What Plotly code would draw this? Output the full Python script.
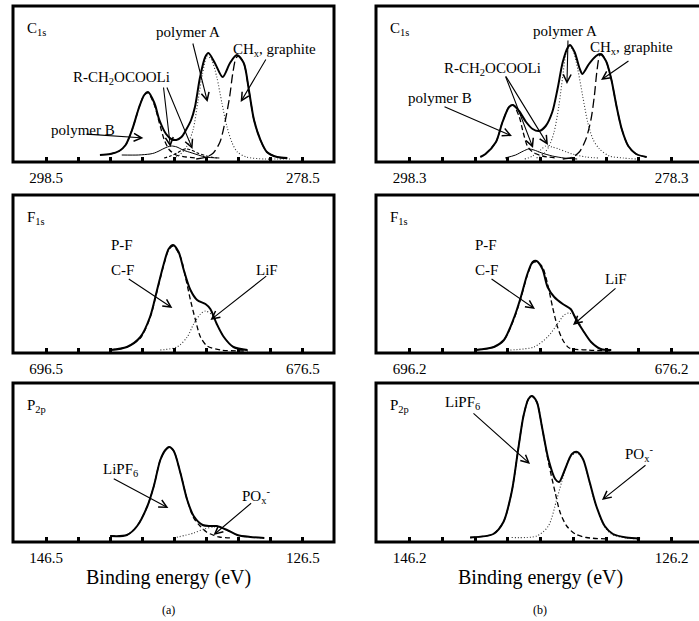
import plotly.graph_objects as go

# ---------------- data (binding energy eV, intensity a.u.) ----------------
# C1s  (a)
C1S_A_ENV_E = [294.3, 293.5, 292.8, 292.3, 291.8, 291.24, 290.85, 290.55, 290.06, 289.67, 289.15, 288.75, 288.35, 287.95,
               287.6, 287.2, 286.9, 286.5, 286.1, 285.85, 285.35, 284.74, 284.17, 283.64, 283.1, 282.7, 282.3, 281.8,
               281.3, 280.5, 279.7]
C1S_A_ENV_I = [7, 8, 11, 17, 32, 55, 67, 70, 59, 42, 28, 23, 22, 25, 32, 42, 55, 85, 105, 109, 99, 85, 99, 107, 99, 72,
               42, 22, 10, 5, 4]
C1S_A_POLYB_E = [293.5, 292.8, 292.3, 291.8, 291.24, 290.85, 290.55, 290.06, 289.67, 289.28, 288.88, 288.36, 287.57, 286.8]
C1S_A_POLYB_I = [8, 11, 17, 32, 55, 67, 69, 57, 39, 22, 12, 7, 5, 4]
C1S_A_R1_E = [292.6, 291.3, 290.4, 290.06, 289.7, 289.4, 289.05, 288.75, 288.3, 287.84, 287.12, 286.08, 285.0]
C1S_A_R1_I = [7, 7, 8, 9, 11, 13, 15, 16, 15, 12, 9, 5, 4]
C1S_A_R2_E = [289.3, 288.8, 288.3, 287.9, 287.6, 287.2, 286.7, 286.0, 285.2]
C1S_A_R2_I = [4, 6, 9, 12, 13, 12, 9, 6, 4]
C1S_A_POLYA_E = [288.6, 288.1, 287.57, 287.05, 286.65, 286.3, 285.95, 285.6, 285.2, 284.8, 284.4, 284.0, 283.6, 282.9,
                 281.5, 280.5, 279.5]
C1S_A_POLYA_I = [4, 7, 15, 32, 62, 89, 106, 102, 85, 59, 35, 19, 10, 5, 3, 3, 3]
C1S_A_CHX_E = [286.8, 286.0, 285.47, 284.95, 284.56, 284.2, 283.95, 283.7, 283.5, 283.1, 282.7, 282.3, 281.8, 281.3,
               280.5, 279.7]
C1S_A_CHX_I = [3, 5, 9, 20, 40, 65, 89, 104, 106, 99, 72, 42, 22, 10, 5, 4]

# C1s  (b)
C1S_B_ENV_E = [292.9, 292.5, 291.7, 291.2, 290.7, 290.4, 289.94, 289.4, 288.9, 288.4, 287.9, 287.4, 287.0, 286.6, 286.2,
               286.05, 285.7, 285.3, 285.1, 284.6, 284.06, 283.75, 283.3, 282.9, 282.5, 282.1, 281.6, 281.0, 280.2]
C1S_B_ENV_I = [5, 8, 20, 40, 55, 57, 51, 40, 33, 31, 36, 50, 73, 100, 115, 117, 110, 93, 88, 98, 106, 108, 101, 83, 56,
               33, 16, 8, 5]
C1S_B_POLYB_E = [292.5, 291.7, 291.2, 290.7, 290.4, 289.94, 289.63, 289.3, 288.9, 288.15, 287.1]
C1S_B_POLYB_I = [8, 20, 40, 55, 57, 46, 30, 16, 10, 6, 4]
C1S_B_R1_E = [291.0, 290.2, 289.6, 289.2, 288.8, 288.2, 287.4, 286.5, 285.5]
C1S_B_R1_I = [4, 7, 11, 13, 12, 9, 6, 4, 3]
C1S_B_R2_E = [289.5, 288.9, 288.3, 287.9, 287.4, 286.9, 286.3, 285.86, 284.84, 283.8]
C1S_B_R2_I = [3, 6, 12, 16, 15, 13, 10, 8, 5, 4]
C1S_B_POLYA_E = [288.6, 288.0, 287.64, 287.26, 286.9, 286.6, 286.36, 286.1, 285.8, 285.46, 285.08, 284.7, 284.3, 283.8,
                 283.04, 282.0, 281.0]
C1S_B_POLYA_I = [4, 9, 16, 30, 56, 86, 108, 116, 111, 93, 66, 40, 23, 13, 6, 4, 3]
C1S_B_CHX_E = [286.6, 285.85, 285.34, 284.83, 284.44, 284.19, 284.0, 283.8, 283.65, 283.3, 282.9, 282.5, 282.1, 281.6,
               281.0, 280.2]
C1S_B_CHX_I = [3, 5, 10, 23, 43, 66, 90, 106, 108, 101, 83, 56, 33, 16, 8, 5]

# F1s  (a)
F1S_A_ENV_E = [691.5, 690.2, 689.15, 688.4, 687.85, 687.33, 686.95, 686.6, 686.17, 685.77, 685.25, 684.73, 684.08,
               683.7, 683.2, 682.65, 681.9, 680.8]
F1S_A_ENV_I = [3, 6, 16, 36, 63, 89, 104, 108, 101, 83, 63, 53, 49, 44, 29, 16, 6, 3]
F1S_A_CF_E = [691.5, 690.2, 689.15, 688.4, 687.85, 687.33, 686.95, 686.6, 686.03, 685.64, 685.25, 684.86, 684.47,
              683.95, 682.9, 680.8]
F1S_A_CF_I = [3, 6, 15, 35, 62, 88, 103, 107, 96, 76, 53, 33, 16, 7, 3, 2]
F1S_A_LIF_E = [687.6, 686.3, 685.5, 685.0, 684.47, 684.08, 683.56, 683.2, 682.65, 681.9, 680.8]
F1S_A_LIF_I = [3, 6, 16, 29, 39, 42, 38, 29, 16, 6, 3]

# F1s  (b)
F1S_B_ENV_E = [691.16, 689.76, 688.99, 688.2, 687.7, 687.2, 686.8, 686.5, 686.05, 685.66, 685.15, 684.5, 683.9, 683.5,
               682.98, 682.34, 681.6, 680.8]
F1S_B_ENV_I = [3, 6, 13, 36, 56, 79, 91, 92, 84, 66, 56, 49, 44, 34, 23, 11, 4, 3]
F1S_B_CF_E = [691.16, 689.76, 688.99, 688.2, 687.7, 687.2, 686.8, 686.5, 686.05, 685.66, 685.28, 684.9, 684.5, 684.0,
              682.6, 680.8]
F1S_B_CF_I = [3, 6, 13, 35, 55, 78, 90, 91, 86, 69, 46, 26, 13, 5, 3, 2]
F1S_B_LIF_E = [688.5, 686.7, 685.66, 684.9, 684.4, 684.0, 683.5, 682.98, 682.34, 681.6, 680.8]
F1S_B_LIF_I = [3, 6, 16, 29, 38, 40, 36, 23, 11, 4, 3]

# P2p  (a)
P2P_A_ENV_E = [141.5, 140.2, 139.4, 138.6, 138.1, 137.6, 137.2, 136.9, 136.55, 136.03, 135.5, 135.0, 134.3, 133.7,
               133.2, 132.4, 131.6, 130.6, 129.5]
P2P_A_ENV_I = [6, 7, 16, 36, 56, 82, 92, 95, 91, 69, 42, 26, 17, 16, 16, 12, 7, 5, 4]
P2P_A_LIPF6_E = [141.5, 140.2, 139.4, 138.6, 138.1, 137.6, 137.2, 136.9, 136.55, 136.03, 135.5, 135.0, 134.5, 134.0,
                 133.5, 133.0, 132.0]
P2P_A_LIPF6_I = [6, 7, 16, 36, 56, 82, 92, 95, 91, 69, 42, 24, 16, 10, 7, 5, 4]
P2P_A_POX_E = [136.55, 135.0, 134.2, 133.4, 132.8, 132.4, 131.6, 130.6, 129.5]
P2P_A_POX_I = [4, 9, 13, 15, 14, 12, 7, 5, 4]

# P2p  (b)
P2P_B_ENV_E = [141.57, 139.8, 139.03, 138.4, 137.9, 137.5, 137.12, 136.86, 136.48, 136.1, 135.6, 135.08, 134.78,
               134.32, 133.8, 133.4, 132.96, 132.45, 131.94, 131.3, 130.67, 129.65, 128.6]
P2P_B_ENV_I = [4.5, 8, 20, 50, 93, 126, 143, 146, 140, 116, 83, 63, 60, 73, 88, 90, 83, 60, 36, 16, 8, 4.5, 3.5]
P2P_B_LIPF6_E = [141.57, 139.8, 139.03, 138.4, 137.9, 137.5, 137.12, 136.86, 136.48, 136.1, 135.6, 135.08, 134.7,
                 134.2, 133.55, 132.7, 131.0]
P2P_B_LIPF6_I = [4.5, 8, 20, 50, 93, 126, 143, 146, 140, 116, 80, 49.5, 29.5, 16, 8, 4.5, 3]
P2P_B_POX_E = [138.4, 136.48, 135.6, 134.95, 134.45, 133.95, 133.4, 132.96, 132.45, 131.94, 131.3, 130.67, 129.65,
               128.6]
P2P_B_POX_I = [4.5, 6, 16, 43, 66, 85, 89, 82, 59, 35, 15, 7, 4, 3]

# tick labels (only the two end ticks are labelled)
TICKS_C1S_A = [298.5, 278.5]
TICKS_C1S_B = [298.3, 278.3]
TICKS_F1S_A = [696.5, 676.5]
TICKS_F1S_B = [696.2, 676.2]
TICKS_P2P_A = [146.5, 126.5]
TICKS_P2P_B = [146.2, 126.2]
TICK_STEP = 2.5

CORE_LEVELS = ["C<sub>1s</sub>", "F<sub>1s</sub>", "P<sub>2p</sub>"]
X_TITLE = "Binding energy (eV)"
COLUMN_TAGS = ["(a)", "(b)"]

# ---------------- styles ----------------
FONT = "Liberation Serif"
ENV = dict(color="black", width=2.0, dash="solid")
DASH = dict(color="black", width=1.3, dash="5px,3px")
SHORTDASH = dict(color="black", width=1.1, dash="3px,2px")
LONGDASH = dict(color="black", width=1.3, dash="9px,4px")
DOT = dict(color="#333333", width=1.1, dash="1px,2px")
THIN = dict(color="black", width=1.0, dash="solid")

W, H = 699, 621
# pixel geometry of the panels
COL_X = [(13, 334), (376, 699)]
ROW_Y = [(6, 162), (195, 353), (383, 542)]
PX_PER_EV = [12.84, 13.1]
FIRST_TICK_PX = [46, 409.5]

fig = go.Figure()

panels = [
    # (row, col, ticks, traces, labels, arrows)
    (0, 0, TICKS_C1S_A,
     [(C1S_A_POLYB_E, C1S_A_POLYB_I, DASH), (C1S_A_R1_E, C1S_A_R1_I, THIN), (C1S_A_R2_E, C1S_A_R2_I, SHORTDASH),
      (C1S_A_POLYA_E, C1S_A_POLYA_I, DOT), (C1S_A_CHX_E, C1S_A_CHX_I, LONGDASH), (C1S_A_ENV_E, C1S_A_ENV_I, ENV)],
     [("polymer A", 287.48, 130, "center"), ("CH<sub>x</sub>, graphite", 284.13, 112, "left"),
      ("R-CH<sub>2</sub>OCOOLi", 292.64, 84, "center"), ("polymer B", 295.61, 32, "center")],
     [((287.09, 120), (285.92, 60)), ((281.31, 104), (283.34, 60)), ((289.36, 76), (288.81, 15)),
      ((289.13, 76), (287.09, 13)), ((295.45, 28), (290.92, 24))]),
    (0, 1, TICKS_C1S_B,
     [(C1S_B_POLYB_E, C1S_B_POLYB_I, DASH), (C1S_B_R1_E, C1S_B_R1_I, THIN), (C1S_B_R2_E, C1S_B_R2_I, DOT),
      (C1S_B_POLYA_E, C1S_B_POLYA_I, DOT), (C1S_B_CHX_E, C1S_B_CHX_I, LONGDASH), (C1S_B_ENV_E, C1S_B_ENV_I, ENV)],
     [("polymer A", 286.43, 131, "center"), ("CH<sub>x</sub>, graphite", 284.67, 114, "left"),
      ("R-CH<sub>2</sub>OCOOLi", 291.93, 93, "center"), ("polymer B", 295.97, 64, "center")],
     [((286.2, 123), (286.28, 78)), ((281.47, 102), (283.68, 82)), ((291.01, 87), (288.87, 14)),
      ((291.01, 87), (287.73, 17)), ((295.74, 56), (290.48, 26))]),
    (1, 0, TICKS_F1S_A,
     [(F1S_A_CF_E, F1S_A_CF_I, DASH), (F1S_A_LIF_E, F1S_A_LIF_I, DOT), (F1S_A_ENV_E, F1S_A_ENV_I, ENV)],
     [("P-F", 690.56, 108, "center"), ("C-F", 690.56, 83, "center"), ("LiF", 679.31, 83, "center")],
     [((690.17, 75), (686.66, 45)), ((679.23, 78), (683.69, 33))]),
    (1, 1, TICKS_F1S_B,
     [(F1S_B_CF_E, F1S_B_CF_I, DASH), (F1S_B_LIF_E, F1S_B_LIF_I, DOT), (F1S_B_ENV_E, F1S_B_ENV_I, ENV)],
     [("P-F", 690.36, 108, "center"), ("C-F", 690.36, 83, "center"), ("LiF", 680.44, 74, "center")],
     [((690.05, 75), (686.62, 44)), ((680.36, 66), (683.72, 28))]),
    (2, 0, TICKS_P2P_A,
     [(P2P_A_LIPF6_E, P2P_A_LIPF6_I, DASH), (P2P_A_POX_E, P2P_A_POX_I, DOT), (P2P_A_ENV_E, P2P_A_ENV_I, ENV)],
     [("LiPF<sub>6</sub>", 140.72, 72, "center"), ("PO<sub>x</sub><sup>-</sup>", 130.17, 46, "center")],
     [((141.34, 64), (136.97, 34)), ((130.41, 40), (133.45, 7))]),
    (2, 1, TICKS_P2P_B,
     [(P2P_B_LIPF6_E, P2P_B_LIPF6_I, DASH), (P2P_B_POX_E, P2P_B_POX_I, DOT), (P2P_B_ENV_E, P2P_B_ENV_I, ENV)],
     [("LiPF<sub>6</sub>", 142.12, 139, "center"), ("PO<sub>x</sub><sup>-</sup>", 128.68, 88, "center")],
     [((141.43, 130), (137.0, 78)), ((128.07, 78), (131.51, 42))]),
]

annotations = []
shapes = []
layout_axes = {}
for k, (row, col, ticks, traces, labels, arrows) in enumerate(panels, start=1):
    xa = "x" if k == 1 else f"x{k}"
    ya = "y" if k == 1 else f"y{k}"
    x0p, x1p = COL_X[col]
    y0p, y1p = ROW_Y[row]
    ppe = PX_PER_EV[col]
    hi, lo = ticks
    e_left = hi + (FIRST_TICK_PX[col] - x0p) / ppe
    e_right = hi - (x1p - FIRST_TICK_PX[col]) / ppe
    layout_axes["xaxis" if k == 1 else f"xaxis{k}"] = dict(
        domain=[x0p / W, x1p / W], anchor=ya, range=[e_left, e_right],
        showgrid=False, zeroline=False, showline=False,
        tickmode="array", tickvals=[hi, lo], ticktext=[f"{hi:.1f}", f"{lo:.1f}"],
        ticks="inside", ticklen=5, tickwidth=2.5, tickcolor="black",
        ticklabelstandoff=5,
        minor=dict(tickmode="linear", tick0=lo, dtick=TICK_STEP, ticks="inside", ticklen=5, tickwidth=2.5,
                   tickcolor="black", showgrid=False),
        tickfont=dict(family=FONT, size=15, color="black"))
    layout_axes["yaxis" if k == 1 else f"yaxis{k}"] = dict(
        domain=[1 - y1p / H, 1 - y0p / H], anchor=xa, range=[0, y1p - y0p],
        showgrid=False, zeroline=False, showline=False, showticklabels=False, ticks="")
    for e, i, st in traces:
        fig.add_trace(go.Scatter(x=e, y=i, mode="lines", line=dict(shape="spline", smoothing=0.8, **st),
                                 xaxis=xa, yaxis=ya, hoverinfo="skip", showlegend=False))
    # frame
    right = 1.0 if col == 0 else 1.0 + 6 / (x1p - x0p)
    shapes.append(dict(type="rect", xref=f"{xa} domain", yref=f"{ya} domain", x0=0, x1=right, y0=0, y1=1,
                       line=dict(color="black", width=3), fillcolor="rgba(0,0,0,0)", layer="above"))
    # core-level label
    annotations.append(dict(text=CORE_LEVELS[row], xref=f"{xa} domain", yref=f"{ya} domain",
                            x=12 / (x1p - x0p) if col == 0 else 12 / 323, y=0.855, xanchor="left", yanchor="middle",
                            showarrow=False, font=dict(family=FONT, size=15, color="black")))
    for txt, ex, ey, anc in labels:
        annotations.append(dict(text=txt, xref=xa, yref=ya, x=ex, y=ey, xanchor=anc, yanchor="middle",
                                showarrow=False, font=dict(family=FONT, size=15, color="black")))
    for (tx, ty), (hx, hy) in arrows:
        annotations.append(dict(text="", xref=xa, yref=ya, x=hx, y=hy, axref=xa, ayref=ya, ax=tx, ay=ty,
                                showarrow=True, arrowhead=5, arrowsize=1.4, arrowwidth=1.1, arrowcolor="black",
                                standoff=0, startstandoff=0))

for col, cx in enumerate([168, 540]):
    annotations.append(dict(text=X_TITLE, xref="paper", yref="paper", x=cx / W, y=1 - 577 / H,
                            xanchor="center", yanchor="middle", showarrow=False,
                            font=dict(family=FONT, size=20, color="black")))
    annotations.append(dict(text=COLUMN_TAGS[col], xref="paper", yref="paper", x=cx / W, y=1 - 610 / H,
                            xanchor="center", yanchor="middle", showarrow=False,
                            font=dict(family=FONT, size=12, color="black")))

fig.update_layout(width=W, height=H, margin=dict(l=0, r=0, t=0, b=0),
                  paper_bgcolor="white", plot_bgcolor="white", showlegend=False,
                  annotations=annotations, shapes=shapes, hovermode=False, **layout_axes)

fig.write_html("out.html")
